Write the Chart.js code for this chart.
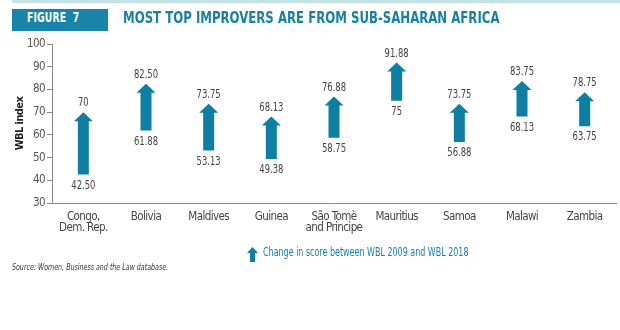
<!DOCTYPE html>
<html>
<head>
<meta charset="utf-8">
<script src="https://cdn.jsdelivr.net/npm/chart.js@4"></script>
<style>
  html, body { margin: 0; padding: 0; background: #fff; }
  #wrap { position: relative; width: 620px; height: 330px; overflow: hidden; background: #fff; }
  #c { position: absolute; left: 0; top: 0; }
  #topline { position: absolute; left: 12px; top: 0; width: 608px; height: 3px; background: #c3e3e4; }
  #figbox { position: absolute; left: 12px; top: 9px; width: 96px; height: 22px; background: #1a83a8; }
  #figtext { position: absolute; left: 27px; top: 9px; height: 22px; line-height: 22px; color: #fff;
    font: bold 13.5px "DejaVu Sans Condensed", sans-serif; white-space: nowrap; letter-spacing: 0.2px;
    transform: scaleX(0.76); transform-origin: left center; }
  #title { position: absolute; left: 123px; top: 9px; height: 22px; line-height: 22px; color: #1a7fa4;
    font: bold 15px "DejaVu Sans Condensed", sans-serif; white-space: nowrap;
    transform: scaleX(0.87); transform-origin: left center; }
  #legicon { position: absolute; left: 247px; top: 247px; }
  #legtext { position: absolute; left: 263px; top: 245px; height: 16px; line-height: 16px; color: #1a7fa4;
    font: 12px "DejaVu Sans Condensed", sans-serif; white-space: nowrap;
    transform: scaleX(0.74); transform-origin: left center; }
  #source { position: absolute; left: 12px; top: 262px; height: 12px; line-height: 12px; color: #333;
    font: italic 9px "DejaVu Sans Condensed", sans-serif; white-space: nowrap;
    transform: scaleX(0.78); transform-origin: left center; }
</style>
</head>
<body>
<div id="wrap">
  <canvas id="c" width="620" height="330"></canvas>
  <div id="topline"></div>
  <div id="figbox"></div>
  <div id="figtext">FIGURE&nbsp;&nbsp;7</div>
  <div id="title">MOST TOP IMPROVERS ARE FROM SUB-SAHARAN AFRICA</div>
  <svg id="legicon" width="11" height="15" viewBox="0 0 11 15"><polygon points="5.5,0 11,6 8,6 8,15 3,15 3,6 0,6" fill="#0f7ea3"/></svg>
  <div id="legtext">Change in score between WBL 2009 and WBL 2018</div>
  <div id="source">Source: Women, Business and the Law database.</div>
</div>
<script>
const categories = [
  ["Congo,", "Dem. Rep."], "Bolivia", "Maldives", "Guinea", ["São Tomè", "and Principe"],
  "Mauritius", "Samoa", "Malawi", "Zambia"
];
const score2009 = [42.50, 61.88, 53.13, 49.38, 58.75, 75, 56.88, 68.13, 63.75];
const score2018 = [70, 82.50, 73.75, 68.13, 76.88, 91.88, 73.75, 83.75, 78.75];
const labels2009 = ["42.50", "61.88", "53.13", "49.38", "58.75", "75", "56.88", "68.13", "63.75"];
const labels2018 = ["70", "82.50", "73.75", "68.13", "76.88", "91.88", "73.75", "83.75", "78.75"];
const yTicks = [30, 40, 50, 60, 70, 80, 90, 100];

const ARROW = "#0f7ea3";
const FONT = '"DejaVu Sans Condensed", sans-serif';
const TIGHT = '-0.6px';

const tightText = {
  id: 'tightText',
  beforeInit(chart) { chart.ctx.letterSpacing = TIGHT; },
  beforeLayout(chart) { chart.ctx.letterSpacing = TIGHT; },
  beforeDraw(chart) { chart.ctx.letterSpacing = TIGHT; }
};

const arrowPlugin = {
  id: 'arrows',
  afterDatasetsDraw(chart) {
    const ctx = chart.ctx;
    const ys = chart.scales.y;
    const meta = chart.getDatasetMeta(0);
    ctx.save();
    ctx.letterSpacing = '0px';
    meta.data.forEach((bar, i) => {
      const x = bar.x;
      const yTip = ys.getPixelForValue(score2018[i]);
      const yBase = ys.getPixelForValue(score2009[i]);
      const shaftHalf = 5.5, headHalf = 9.5, headH = 9;
      ctx.fillStyle = ARROW;
      ctx.beginPath();
      ctx.moveTo(x, yTip);
      ctx.lineTo(x + headHalf, yTip + headH);
      ctx.lineTo(x + shaftHalf, yTip + headH);
      ctx.lineTo(x + shaftHalf, yBase);
      ctx.lineTo(x - shaftHalf, yBase);
      ctx.lineTo(x - shaftHalf, yTip + headH);
      ctx.lineTo(x - headHalf, yTip + headH);
      ctx.closePath();
      ctx.fill();
      ctx.fillStyle = "#444";
      ctx.font = "12px " + FONT;
      ctx.textAlign = "center";
      ctx.save();
      ctx.translate(x, 0);
      ctx.scale(0.78, 1);
      ctx.textBaseline = "bottom";
      ctx.fillText(labels2018[i], 0, yTip - 3);
      ctx.textBaseline = "top";
      ctx.fillText(labels2009[i], 0, yBase + 5);
      ctx.restore();
    });
    ctx.restore();
  }
};

new Chart(document.getElementById('c'), {
  type: 'bar',
  data: {
    labels: categories,
    datasets: [{
      label: 'Change in score between WBL 2009 and WBL 2018',
      data: score2009.map((s, i) => [s, score2018[i]]),
      backgroundColor: 'rgba(0,0,0,0)',
      borderWidth: 0
    }]
  },
  options: {
    responsive: false,
    animation: false,
    events: [],
    layout: { padding: { left: 0, top: 44, right: 4, bottom: 0 } },
    plugins: { legend: { display: false }, tooltip: { enabled: false } },
    scales: {
      x: {
        grid: { display: false, drawTicks: false },
        border: { display: true, color: '#8a8a8a', width: 1 },
        ticks: { color: '#444', font: { family: FONT, size: 11.5, lineHeight: 1.0 }, padding: 8, maxRotation: 0, autoSkip: false },
        afterFit(scale) { scale.height = 127; }
      },
      y: {
        min: 30, max: 100,
        afterBuildTicks(scale) { scale.ticks = yTicks.map(v => ({ value: v })); },
        grid: { display: true, drawOnChartArea: false, drawTicks: true, tickLength: 5, color: '#8a8a8a' },
        border: { display: true, color: '#8a8a8a', width: 1 },
        ticks: { color: '#555', font: { family: FONT, size: 11.5 }, padding: 2 },
        title: { display: true, text: 'WBL index', color: '#222', font: { family: FONT, size: 11, weight: 'bold' }, padding: { top: 14, bottom: 0 } },
        afterFit(scale) { scale.width = 52; }
      }
    }
  },
  plugins: [tightText, arrowPlugin]
});
</script>
</body>
</html>
